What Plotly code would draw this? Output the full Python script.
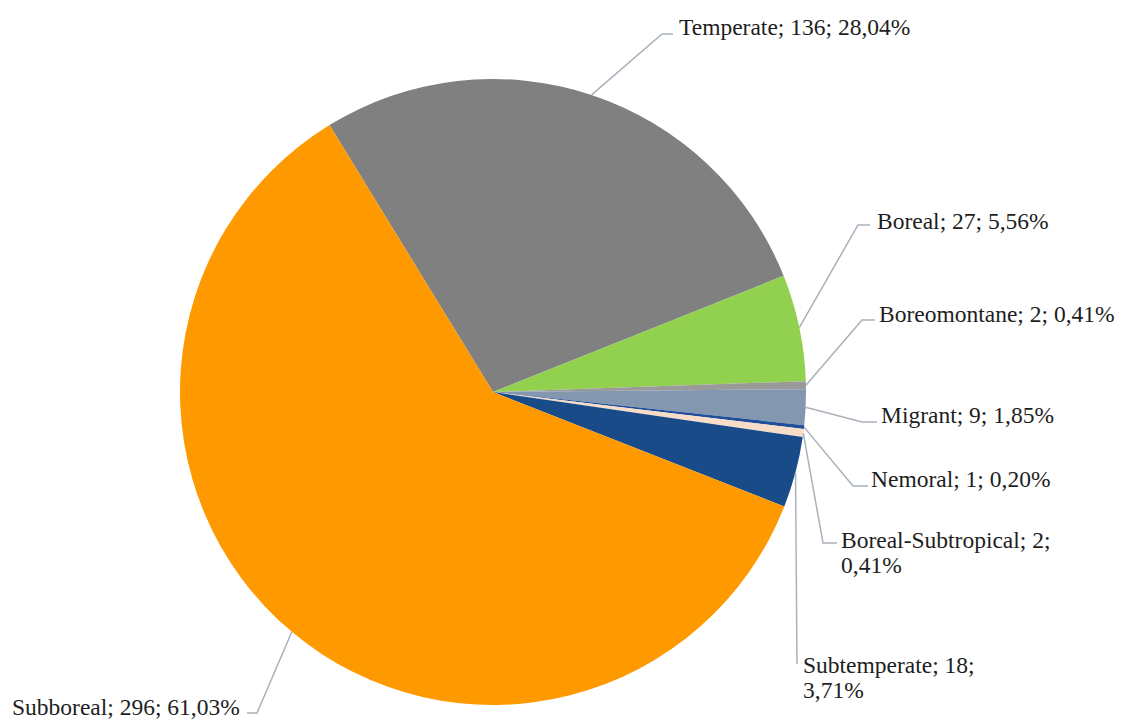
import math
import plotly.graph_objects as go

# ---- data ----
categories = ["Temperate", "Boreal", "Boreomontane", "Migrant", "Nemoral",
              "Boreal-Subtropical", "Subtemperate", "Subboreal"]
counts = [136, 27, 2, 9, 1, 2, 18, 296]
percent_labels = ["28,04%", "5,56%", "0,41%", "1,85%", "0,20%", "0,41%", "3,71%", "61,03%"]
colors = ["#808080", "#92D050", "#9A9A9A", "#8497B0", "#1F4E9A",
          "#F8DCC8", "#184B88", "#FF9900"]

# ---- layout geometry (pixels) ----
W, H = 1121, 720
CX, CY, R = 493, 392, 313
ROT = -31.5

def px(x):
    return x / W

def py(y):
    return 1 - y / H

# label placement: knee point, end of horizontal stub, text anchor, text lines' y
label_layout = {
    "Temperate":          dict(knee=(662, 34), end=(673, 34), tx=677, side="left", ys=[27]),
    "Boreal":             dict(knee=(858, 225), end=(870, 225), tx=875, side="left", ys=[221]),
    "Boreomontane":       dict(knee=(862, 320), end=(875, 320), tx=877, side="left", ys=[314]),
    "Migrant":            dict(knee=(862, 422), end=(877, 422), tx=879, side="left", ys=[415]),
    "Nemoral":            dict(knee=(853, 486), end=(868, 486), tx=869, side="left", ys=[479]),
    "Boreal-Subtropical": dict(knee=(823, 543), end=(837, 543), tx=839, side="left", ys=[540, 565]),
    "Subtemperate":       dict(knee=(797, 664), end=(797, 664), tx=801, side="left", ys=[665, 690]),
    "Subboreal":          dict(knee=(257, 713), end=(247, 713), tx=242, side="right", ys=[707]),
}
label_wrap = {"Boreal-Subtropical": 1, "Subtemperate": 1}

fig = go.Figure()
fig.add_trace(go.Pie(
    labels=categories,
    values=counts,
    sort=False,
    direction="clockwise",
    rotation=ROT,
    marker=dict(colors=colors, line=dict(width=0)),
    textinfo="none",
    hoverinfo="label+value+percent",
    showlegend=False,
    domain=dict(x=[px(CX - R), px(CX + R)], y=[py(CY + R), py(CY - R)]),
))

total = sum(counts)
cum = 0
shapes = []
annotations = []
font = dict(family="Liberation Serif, Times New Roman, serif", size=23.5, color="#1e1e1e")
for cat, v, pct in zip(categories, counts, percent_labels):
    mid = math.radians(ROT + 360 * (cum + v / 2) / total)
    cum += v
    sx = CX + R * math.sin(mid)
    sy = CY - R * math.cos(mid)
    L = label_layout[cat]
    kx, ky = L["knee"]
    ex, ey = L["end"]
    path = f"M {px(sx)} {py(sy)} L {px(kx)} {py(ky)} L {px(ex)} {py(ey)}"
    shapes.append(dict(type="path", xref="paper", yref="paper", path=path,
                       line=dict(color="#A9B1BC", width=1.5)))
    parts = [f"{cat};", f"{v};", pct]
    if cat in label_wrap:
        lines = [" ".join(parts[:2]), parts[2]]
    else:
        lines = [" ".join(parts)]
    for line, yy in zip(lines, L["ys"]):
        annotations.append(dict(
            text=line, xref="paper", yref="paper",
            x=px(L["tx"]), y=py(yy),
            xanchor=L["side"], yanchor="middle",
            showarrow=False, font=font,
        ))

fig.update_layout(
    width=W, height=H,
    margin=dict(l=0, r=0, t=0, b=0),
    paper_bgcolor="white",
    plot_bgcolor="white",
    shapes=shapes,
    annotations=annotations,
)

fig.write_html("out.html", config={"displayModeBar": False},
               post_script="document.body.style.margin='0px';")
